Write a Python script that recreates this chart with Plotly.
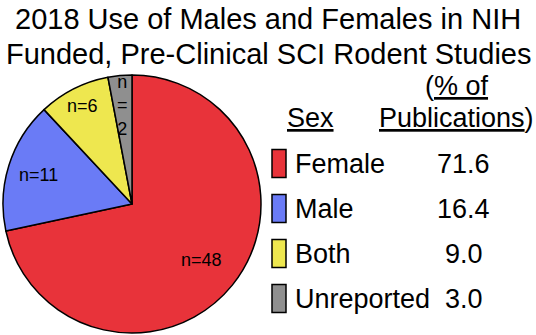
import math
import plotly.graph_objects as go

# ---- data ----
categories = ["Female", "Male", "Both", "Unreported"]
counts = [48, 11, 6, 2]
percent_labels = ["71.6", "16.4", "9.0", "3.0"]
slice_texts = ["n=48", "n=11", "n=6", "n<br>=<br>2"]
title_lines = ["2018 Use of Males and Females in NIH",
               "Funded, Pre-Clinical SCI Rodent Studies"]

# ---- style ----
colors = ["#E8333A", "#6A7BF6", "#EEE74F", "#8F8F8F"]
label_radius = [0.69, 0.76, 0.85, 0.77]
W, H = 536, 335
FONT = "Liberation Sans, Arial, sans-serif"


def px(x):
    return x / W


def py(y):
    return 1 - y / H


# pie geometry (pixels)
cx, cy, R = 132, 204, 129

fig = go.Figure()
fig.add_trace(go.Pie(
    labels=categories,
    values=counts,
    sort=False,
    direction="clockwise",
    rotation=0,
    marker=dict(colors=colors, line=dict(color="black", width=1.5)),
    textinfo="none",
    hoverinfo="label+value+percent",
    showlegend=False,
    domain=dict(x=[px(cx - R), px(cx + R)], y=[py(cy + R), py(cy - R)]),
))

annotations = []
# slice labels placed at the mid-angle of each slice
total = sum(counts)
cum = 0
for i, v in enumerate(counts):
    mid = (cum + v / 2) / total * 2 * math.pi
    cum += v
    r = label_radius[i] * R
    lx = cx + r * math.sin(mid)
    ly = cy - r * math.cos(mid)
    annotations.append(dict(
        x=px(lx), y=py(ly), xref="paper", yref="paper",
        text=slice_texts[i], showarrow=False,
        xanchor="center", yanchor="middle",
        font=dict(family=FONT, size=18, color="black"),
    ))

# title lines
for i, t in enumerate(title_lines):
    annotations.append(dict(
        x=0.5, y=py(30 + 35 * i - 10.5), xref="paper", yref="paper",
        text=t, showarrow=False, xanchor="center", yanchor="middle",
        font=dict(family=FONT, size=29, color="black"),
    ))

# legend headers
hdr_font = dict(family=FONT, size=27, color="black")
annotations.append(dict(x=px(310), y=py(118.5), xref="paper", yref="paper",
                        text="<u>Sex</u>", showarrow=False,
                        xanchor="center", yanchor="middle", font=hdr_font))
annotations.append(dict(x=px(457), y=py(85.5), xref="paper", yref="paper",
                        text="(<u>% of</u>", showarrow=False,
                        xanchor="center", yanchor="middle", font=hdr_font))
annotations.append(dict(x=px(456), y=py(118.5), xref="paper", yref="paper",
                        text="<u>Publications</u>)", showarrow=False,
                        xanchor="center", yanchor="middle", font=hdr_font))

shapes = []
row0, step = 163.5, 45
for i, cat in enumerate(categories):
    yc = row0 + step * i
    shapes.append(dict(type="rect", xref="paper", yref="paper",
                       x0=px(272), x1=px(286), y0=py(yc - 14), y1=py(yc + 14),
                       fillcolor=colors[i], line=dict(color="black", width=1.5)))
    annotations.append(dict(x=px(293), y=py(yc), xref="paper", yref="paper",
                            text=cat, showarrow=False,
                            xanchor="left", yanchor="middle", font=hdr_font))
    annotations.append(dict(x=px(464), y=py(yc), xref="paper", yref="paper",
                            text=percent_labels[i], showarrow=False,
                            xanchor="center", yanchor="middle", font=hdr_font))

fig.update_layout(
    width=W, height=H,
    margin=dict(l=0, r=0, t=0, b=0),
    paper_bgcolor="white", plot_bgcolor="white",
    annotations=annotations, shapes=shapes,
)

fig.write_html(
    "out.html",
    config={"displayModeBar": False},
    post_script="document.body.style.margin='0';document.body.style.overflow='hidden';",
)
